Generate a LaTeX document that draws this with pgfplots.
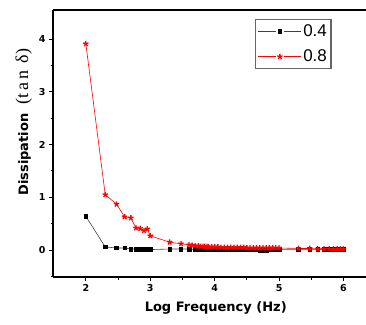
\documentclass[border=0pt]{standalone}
\usepackage{fontspec}
\setmainfont{DejaVu Sans}
\newfontfamily\legfont{Liberation Sans}
\newfontfamily\serfont{Liberation Serif}
\usepackage{pgfplots}
\pgfplotsset{compat=1.18}
\begin{document}
\begin{tikzpicture}
\begin{axis}[
  name=ax,
  scale only axis,
  width=313pt, height=267pt,
  xmin=1.49, xmax=6.35,
  ymin=-0.51, ymax=4.55,
  axis lines*=left,
  axis line style={line width=1.4pt},
  xtick={2,3,4,5,6},
  ytick={0,1,2,3,4},
  minor xtick={2.5,3.5,4.5,5.5},
  minor ytick={-0.5,0.5,1.5,2.5,3.5},
  tick align=outside,
  major tick length=4pt,
  minor tick length=2.5pt,
  tick style={line width=1pt, black},
  ticklabel style={font=\bfseries\fontsize{9.5}{10}\selectfont},
  /pgf/number format/assume math mode=true,
  xlabel={Log Frequency (Hz)},
  ylabel={Dissipation {\serfont\mdseries\fontsize{18}{19}\selectfont\ (t\,a\,n\ \,δ)}},
  xlabel style={font=\bfseries\fontsize{13}{14}\selectfont, at={(ticklabel cs:0.52)}, yshift=-3pt},
  ylabel style={font=\bfseries\fontsize{13}{14}\selectfont, at={(ticklabel cs:0.58)}, yshift=0pt},
  clip=false,
  legend style={at={(rel axis cs:0.645,0.966)}, anchor=north west,
    draw=gray!80!black, line width=1.2pt, font=\legfont\fontsize{17}{18}\selectfont,
    inner xsep=2pt, inner ysep=3pt, row sep=8pt},
  legend cell align=left,
  legend image code/.code={
    \draw[#1, line width=0.8pt, mark=none] (0pt,0pt) -- (18pt,0pt);
    \draw[#1, line width=0.8pt, mark=none] (26pt,0pt) -- (43pt,0pt);
    \draw[#1, line width=0.8pt, mark repeat=2, mark phase=2, draw=none] plot coordinates {(18pt,0pt) (22pt,0pt) (26pt,0pt)};
  },
]
\draw[line width=1.4pt] (rel axis cs:0,1) -- (rel axis cs:1,1);
\addplot[black!75, line width=0.6pt, mark=square*, mark size=1.8pt, mark options={black, solid}] coordinates {
(2,0.64) (2.301,0.06) (2.477,0.04) (2.602,0.04) (2.699,0.02) (2.778,0.02) (2.845,0.02) (2.903,0.02) (2.954,0.02) (3.0,0.01)
(3.301,0.02) (3.477,0.02) (3.602,0.02) (3.699,0.01) (3.778,0.01) (3.845,0.01) (3.903,0.01) (3.954,0.01) (4.0,0.01)
(4.05,0.01) (4.1,0.01) (4.15,0.01) (4.2,0.01) (4.25,0.01) (4.3,0.01) (4.35,0.01) (4.4,0.01) (4.45,0.01) (4.5,0.01)
(4.55,0.01) (4.6,0.01) (4.65,0.01) (4.7,0.0) (4.75,0.0) (4.8,0.0) (4.85,0.01) (4.9,0.01) (4.95,0.01) (5.0,0.01)
(5.301,0.01) (5.477,0.01) (5.602,0.01) (5.699,0.01) (5.778,0.01) (5.845,0.01) (5.903,0.01) (5.954,0.01) (6.0,0.01)
};
\addlegendentry{0.4}
\addplot[red, line width=0.6pt, mark=star, mark size=2.8pt, mark options={red, solid, line width=1.3pt}] coordinates {
(2,3.91) (2.301,1.05) (2.477,0.87) (2.602,0.63) (2.699,0.61) (2.778,0.42) (2.845,0.41) (2.903,0.37) (2.954,0.40) (3.0,0.27)
(3.301,0.15) (3.477,0.12) (3.602,0.10) (3.65,0.09) (3.699,0.08) (3.75,0.08) (3.778,0.07) (3.82,0.07) (3.845,0.07) (3.88,0.07) (3.903,0.06) (3.954,0.06) (4.0,0.06)
(4.05,0.06) (4.1,0.05) (4.15,0.05) (4.2,0.05) (4.25,0.05) (4.3,0.05) (4.35,0.05) (4.4,0.05) (4.45,0.05) (4.5,0.04)
(4.55,0.04) (4.6,0.04) (4.65,0.04) (4.7,0.04) (4.75,0.04) (4.8,0.04) (4.85,0.04) (4.9,0.04) (4.95,0.04) (5.0,0.04)
(5.301,0.03) (5.477,0.03) (5.602,0.02) (5.699,0.02) (5.778,0.02) (5.845,0.02) (5.903,0.02) (5.954,0.02) (6.0,0.02)
};
\addlegendentry{0.8}
\end{axis}
\pgfresetboundingbox
\path ([shift={(-53pt,-47pt)}]ax.south west) rectangle ([shift={(0pt,10pt)}]ax.north east);
\end{tikzpicture}
\end{document}
